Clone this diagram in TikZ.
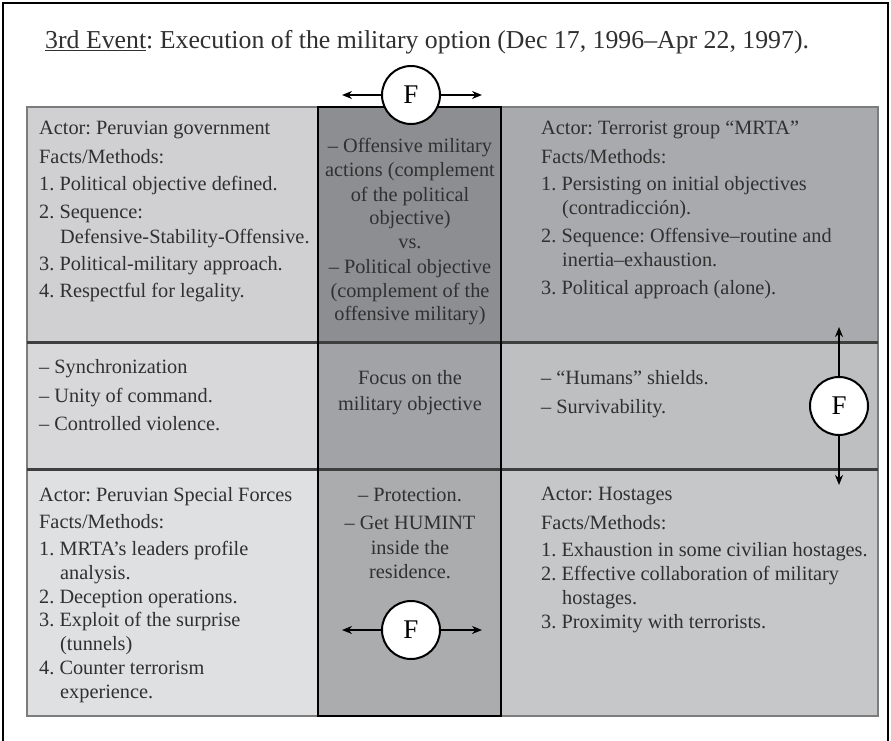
\documentclass[tikz,border=0pt]{standalone}
\usepackage{fontspec}
\setmainfont{Liberation Serif}
\usetikzlibrary{arrows.meta}
\frenchspacing
\definecolor{txt}{HTML}{303030}
\definecolor{cTL}{HTML}{D0D0D2}
\definecolor{cTM}{HTML}{8D8E91}
\definecolor{cTR}{HTML}{A9AAAD}
\definecolor{cML}{HTML}{D8D8DA}
\definecolor{cMM}{HTML}{A2A3A6}
\definecolor{cMR}{HTML}{BEBFC1}
\definecolor{cBL}{HTML}{DFE0E2}
\definecolor{cBM}{HTML}{ABACAE}
\definecolor{cBR}{HTML}{C6C7C9}
\definecolor{divc}{HTML}{3E3E3E}
\definecolor{brd}{HTML}{7C7C7C}
\newlength{\ind}\setlength{\ind}{21pt}
\newcommand{\bodyfont}{\fontsize{20.3}{24}\selectfont}
\newcommand{\cellL}[2][24pt]{\parbox[t]{340pt}{\raggedright\bodyfont\baselineskip=#1\relax #2}}
\newcommand{\cellC}[2][24pt]{\parbox[t]{190pt}{\centering\bodyfont\baselineskip=#1\relax #2}}
\begin{document}
\begin{tikzpicture}[x=1pt,y=-1pt,
  txtL/.style={anchor=base west,inner sep=0pt,text=txt},
  txtC/.style={anchor=base,inner sep=0pt,text=txt},
  fcirc/.style={circle,draw=black,fill=white,line width=2pt,minimum size=58pt,inner sep=0pt,font=\fontsize{27}{27}\selectfont},
  farrow/.style={line width=1.8pt,-{Stealth[length=10pt,width=8pt]}}]
\useasboundingbox (0,0) rectangle (891,741);
\fill[white] (0,0) rectangle (891,741);
% outer frame (bottom edge lies below the page)
\draw[line width=2.5pt] (3,3) rectangle (888,790);
% title
\node[anchor=base west,inner sep=0pt,text=txt,font=\fontsize{25.8}{30}\selectfont] (title) at (45,49)
  {\underline{3rd Event}: Execution of the military option (Dec 17, 1996–Apr 22, 1997).};
% cell fills
\fill[cTL] (27,107) rectangle (318,342);
\fill[cTM] (318,107) rectangle (501,342);
\fill[cTR] (501,107) rectangle (878,342);
\fill[cML] (27,342) rectangle (318,469);
\fill[cMM] (318,342) rectangle (501,469);
\fill[cMR] (501,342) rectangle (878,469);
\fill[cBL] (27,469) rectangle (318,716);
\fill[cBM] (318,469) rectangle (501,716);
\fill[cBR] (501,469) rectangle (878,716);
% table border and row dividers
\draw[brd,line width=1.6pt] (27,107) rectangle (878,716);
\draw[divc,line width=3pt] (27,342) -- (878,342);
\draw[divc,line width=3pt] (27,469) -- (878,469);
% middle column border
\draw[black,line width=2pt] (318,107) rectangle (501,716);
% texts
\node[txtL] (tl) at (39,135) {\cellL{Actor: Peruvian government\\[5pt]
Facts/Methods:\\[3pt]
1. Political objective defined.\\[4pt]
2. Sequence:\\
\hspace*{\ind}Defensive-Stability-Offensive.\\[3pt]
3. Political-military approach.\\[3pt]
4. Respectful for legality.}};
\node[txtC] (tm) at (410,153) {\cellC{– Offensive military\\ actions (complement\\ of the political\\ objective)\\ vs.\\ – Political objective\\ (complement of the\\ offensive military)}};
\node[txtL] (tr) at (541,135) {\cellL{Actor: Terrorist group “MRTA”\\[5pt]
Facts/Methods:\\[3pt]
1. Persisting on initial objectives\\
\hspace*{\ind}(contradicción).\\[4pt]
2. Sequence: Offensive–routine and\\
\hspace*{\ind}inertia–exhaustion.\\[4pt]
3. Political approach (alone).}};
\node[txtL] (ml) at (39,373) {\cellL{– Synchronization\\[5pt]
– Unity of command.\\[4pt]
– Controlled violence.}};
\node[txtC] (mm) at (410,384) {\cellC{Focus on the\\[2pt] military objective}};
\node[txtL] (mr) at (541,384) {\cellL{– “Humans” shields.\\[5pt]
– Survivability.}};
\node[txtL] (bl) at (39,501) {\cellL[23.5pt]{Actor: Peruvian Special Forces\\[4pt]
Facts/Methods:\\[3pt]
1. MRTA’s leaders profile\\[1pt]
\hspace*{\ind}analysis.\\
2. Deception operations.\\
3. Exploit of the surprise\\
\hspace*{\ind}(tunnels)\\[1pt]
4. Counter terrorism\\
\hspace*{\ind}experience.}};
\node[txtC] (bm) at (410,501) {\cellC{– Protection.\\[4pt] – Get HUMINT\\[1pt] inside the\\ residence.}};
\node[txtL] (br) at (541,500) {\cellL{Actor: Hostages\\[5pt]
Facts/Methods:\\[3pt]
1. Exhaustion in some civilian hostages.\\
2. Effective collaboration of military\\
\hspace*{\ind}hostages.\\
3. Proximity with terrorists.}};
% F circles and arrows
\node[fcirc] (ft) at (411,95) {F};
\coordinate (ftl) at (342,95);
\coordinate (ftr) at (482,95);
\draw[farrow] (ft.west) -- (ftl);
\draw[farrow] (ft.east) -- (ftr);
\node[fcirc] (fr) at (839,406) {F};
\coordinate (fru) at (839,327);
\coordinate (frd) at (839,485);
\draw[farrow] (fr.north) -- (fru);
\draw[farrow] (fr.south) -- (frd);
\node[fcirc] (fb) at (411,630) {F};
\coordinate (fbl) at (342,630);
\coordinate (fbr) at (482,630);
\draw[farrow] (fb.west) -- (fbl);
\draw[farrow] (fb.east) -- (fbr);
\end{tikzpicture}
\end{document}
